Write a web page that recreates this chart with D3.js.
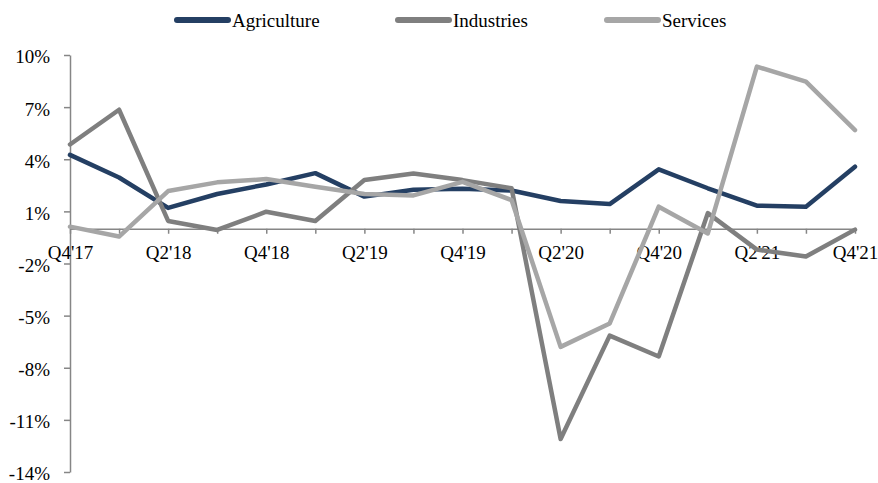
<!DOCTYPE html>
<html>
<head>
<meta charset="utf-8">
<script src="https://cdn.jsdelivr.net/npm/d3@7"></script>
<style>
  html, body { margin: 0; padding: 0; background: #fff; }
  svg { display: block; font-family: "Liberation Serif", "DejaVu Serif", serif; }
</style>
</head>
<body>
<svg id="chart" width="878" height="483"></svg>
<script>
// Quarterly growth by sector, Q4'17 – Q4'21 (%)
const quarters = ["Q4'17","Q1'18","Q2'18","Q3'18","Q4'18","Q1'19","Q2'19","Q3'19","Q4'19",
                  "Q1'20","Q2'20","Q3'20","Q4'20","Q1'21","Q2'21","Q3'21","Q4'21"];
const agriculture = [4.25, 2.95, 1.2, 2.0, 2.55, 3.2, 1.85, 2.25, 2.3, 2.2, 1.6, 1.42, 3.42, 2.33, 1.33, 1.27, 3.57];
const industries  = [4.85, 6.85, 0.45, -0.07, 0.98, 0.45, 2.8, 3.18, 2.8, 2.33, -12.1, -6.15, -7.35, 0.9, -1.2, -1.6, -0.05];
const services    = [0.12, -0.45, 2.17, 2.67, 2.86, 2.42, 2.0, 1.92, 2.7, 1.65, -6.8, -5.45, 1.27, -0.27, 9.33, 8.47, 5.68];
const yTicks = [10, 7, 4, 1, -2, -5, -8, -11, -14];
const xLabelQuarters = ["Q4'17","Q2'18","Q4'18","Q2'19","Q4'19","Q2'20","Q4'20","Q2'21","Q4'21"];

const seriesNames = ["Agriculture", "Industries", "Services"];
const seriesColors = ["#243f63", "#7f7f7f", "#a6a6a6"];
const seriesData = [agriculture, industries, services];

const svg = d3.select("#chart");
const axisColor = "#868686";
const fontSize = 19;

const x = d3.scalePoint().domain(quarters).range([70, 855]);
const y = d3.scaleLinear().domain([-14, 10]).range([472, 55]);

// Y axis
const yAxis = svg.append("g")
  .attr("transform", "translate(70,0)")
  .call(d3.axisLeft(y).tickValues(yTicks).tickSize(6).tickSizeOuter(0).tickPadding(14)
        .tickFormat(d => d + "%"));
yAxis.selectAll("path, line").attr("stroke", axisColor).attr("stroke-width", 1.5);
yAxis.selectAll("text").attr("font-size", fontSize).attr("fill", "#000")
  .attr("font-family", "Liberation Serif, serif").attr("dy", "0.42em");

// X axis along zero
const xAxis = svg.append("g")
  .attr("transform", `translate(0,${y(0)})`)
  .call(d3.axisBottom(x).tickSize(5).tickSizeOuter(0).tickPadding(12)
        .tickFormat(d => xLabelQuarters.includes(d) ? d : ""));
xAxis.selectAll("path, line").attr("stroke", axisColor).attr("stroke-width", 1.5);
xAxis.selectAll("text").attr("font-size", fontSize).attr("fill", "#000")
  .attr("font-family", "Liberation Serif, serif");

// Series lines
const line = d3.line().x((d, i) => x(quarters[i])).y(d => y(d));
seriesData.forEach((vals, k) => {
  svg.append("path")
    .datum(vals)
    .attr("d", line)
    .attr("fill", "none")
    .attr("stroke", seriesColors[k])
    .attr("stroke-width", 4.5)
    .attr("stroke-linejoin", "round")
    .attr("stroke-linecap", "round");
});

// Legend
const legendX = [174, 395, 604];
const legend = svg.append("g");
seriesNames.forEach((name, k) => {
  const g = legend.append("g").attr("transform", `translate(${legendX[k]},20)`);
  g.append("line").attr("x1", 3).attr("x2", 54).attr("y1", 0).attr("y2", 0)
    .attr("stroke", seriesColors[k]).attr("stroke-width", 6).attr("stroke-linecap", "round");
  g.append("text").attr("x", 58).attr("y", 0).attr("dy", "0.35em")
    .attr("font-size", fontSize).attr("fill", "#000").text(name);
});
</script>
</body>
</html>
